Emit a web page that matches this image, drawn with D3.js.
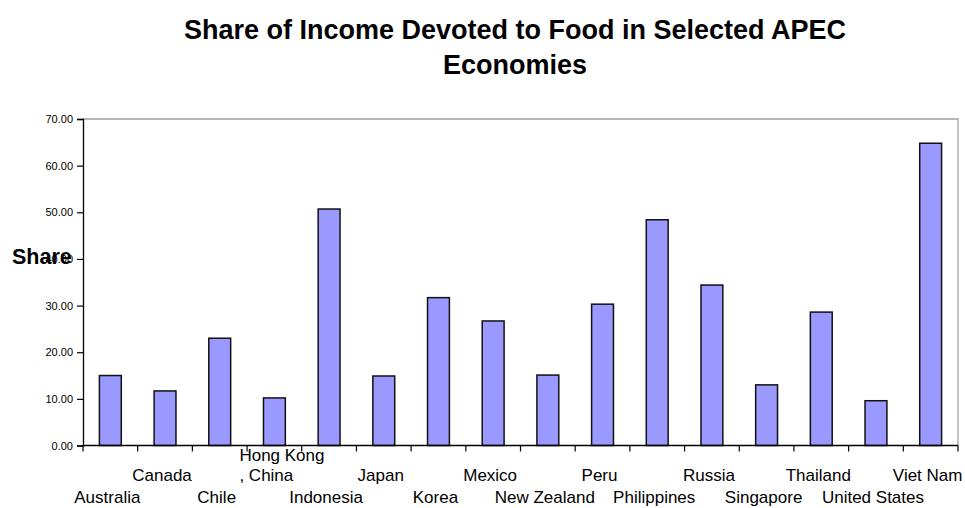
<!DOCTYPE html>
<html>
<head>
<meta charset="utf-8">
<script src="https://cdn.jsdelivr.net/npm/d3@7/dist/d3.min.js"></script>
<style>
  html, body { margin: 0; padding: 0; background: #fff; }
  svg { display: block; font-family: "Liberation Sans", Arial, Helvetica, sans-serif; }
</style>
</head>
<body>
<svg id="chart" width="965" height="508"></svg>
<script>
const titleLines = ["Share of Income Devoted to Food in Selected APEC", "Economies"];
const yAxisTitle = "Share";
const categories = ["Australia", "Canada", "Chile", "Hong Kong, China", "Indonesia", "Japan", "Korea", "Mexico",
  "New Zealand", "Peru", "Philippines", "Russia", "Singapore", "Thailand", "United States", "Viet Nam"];
const shares = [15.0, 11.7, 23.0, 10.2, 50.7, 14.9, 31.7, 26.7, 15.1, 30.3, 48.4, 34.4, 13.0, 28.6, 9.6, 64.8];
const yTicks = [0, 10, 20, 30, 40, 50, 60, 70];

const svg = d3.select("#chart");
const plot = { left: 83, right: 958, top: 119, bottom: 445.5 };

const x = d3.scaleBand().domain(categories).range([plot.left, plot.right]).paddingInner(0.6).paddingOuter(0.3);
const y = d3.scaleLinear().domain([0, 70]).range([plot.bottom, plot.top]);

// Title
svg.append("g").selectAll("text").data(titleLines).join("text")
  .attr("x", 515).attr("y", (d, i) => 39 + i * 35)
  .attr("text-anchor", "middle").attr("font-size", 27).attr("font-weight", "bold").attr("fill", "#000")
  .text(d => d);

// Plot border (top/right gray)
svg.append("path")
  .attr("d", `M${plot.left},${y(70)}H${plot.right}V${plot.bottom}`)
  .attr("fill", "none").attr("stroke", "#a0a0a0").attr("stroke-width", 1.3);

// Bars
svg.append("g").selectAll("rect").data(categories).join("rect")
  .attr("x", d => x(d)).attr("width", x.bandwidth())
  .attr("y", (d, i) => y(shares[i])).attr("height", (d, i) => y(0) - y(shares[i]))
  .attr("fill", "#9999ff").attr("stroke", "#111").attr("stroke-width", 1.5);

// Y axis
const yAxis = d3.axisLeft(y).tickValues(yTicks).tickFormat(d3.format(".2f")).tickSize(6).tickPadding(4);
const gy = svg.append("g").attr("transform", `translate(${plot.left},0)`).call(yAxis);
gy.select(".domain").attr("stroke", "#000").attr("stroke-width", 1.3);
gy.selectAll(".tick line").attr("stroke", "#000").attr("stroke-width", 1.2);
gy.selectAll(".tick text").attr("font-size", 11).attr("fill", "#000")
  .attr("font-family", "Liberation Sans, Arial, sans-serif");

// X axis line and boundary ticks
svg.append("line").attr("x1", plot.left).attr("x2", plot.right)
  .attr("y1", y(0)).attr("y2", y(0)).attr("stroke", "#000").attr("stroke-width", 1.5);
const boundaries = d3.range(categories.length + 1).map(i => plot.left + i * x.step());
svg.append("g").selectAll("line").data(boundaries).join("line")
  .attr("x1", d => d).attr("x2", d => d).attr("y1", y(0)).attr("y2", y(0) + 6)
  .attr("stroke", "#000").attr("stroke-width", 1.2);

// X labels (staggered)
const lab = svg.append("g").attr("font-size", 17).attr("fill", "#000");
categories.forEach((c, i) => {
  const cx = x(c) + x.bandwidth() / 2 - 3;
  const base = i % 2 === 0 ? 503 : 481;
  const parts = c.includes(", ") ? [c.split(", ")[0], ", " + c.split(", ")[1]] : [c];
  if (parts.length === 1) {
    lab.append("text").attr("x", cx).attr("y", base).attr("text-anchor", "middle").text(c);
  } else {
    const t = lab.append("text").attr("y", base - 20 * (parts.length - 1));
    parts.forEach((p, j) => t.append("tspan").attr("x", cx - 32).attr("dy", j === 0 ? 0 : 20).text(p));
  }
});

// Y axis title
svg.append("text").attr("x", 12).attr("y", 264).attr("font-size", 21.5).attr("font-weight", "bold")
  .attr("fill", "#000").text(yAxisTitle);
</script>
</body>
</html>
